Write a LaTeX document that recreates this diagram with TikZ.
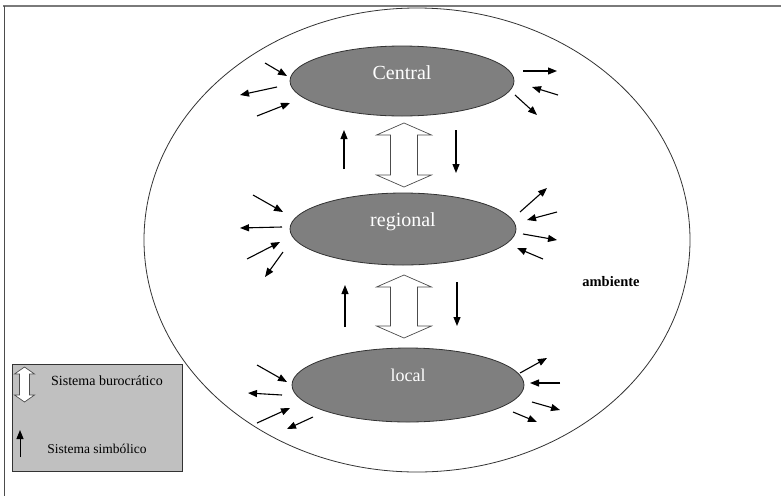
\documentclass[tikz,border=0pt]{standalone}
\usepackage{fontspec}
\setmainfont{Liberation Serif}
\usetikzlibrary{arrows.meta,shapes.geometric}

\definecolor{levelgray}{HTML}{7F7F7F}
\definecolor{legendgray}{HTML}{C0C0C0}
\definecolor{framegray}{HTML}{7A7A7A}

\tikzset{
  level/.style={ellipse, draw=black!80, line width=0.8pt, fill=levelgray, inner sep=0pt},
  lvltext/.style={text=white, font=\fontsize{20}{22}\selectfont},
  flow/.style={line width=1.1pt, -{Triangle[length=9pt,width=7pt]}},
  burbox/.style={draw=black!70, line width=0.7pt, fill=white}
}

% the hollow two-headed arrow (bureaucratic system)
\newcommand{\burarrow}[6]{%
  \draw[burbox] (#1,#2) -- (#1+#5,#2+#6) -- (#1+#4,#2+#6) -- (#1+#4,#3-#6)
    -- (#1+#5,#3-#6) -- (#1,#3) -- (#1-#5,#3-#6) -- (#1-#4,#3-#6)
    -- (#1-#4,#2+#6) -- (#1-#5,#2+#6) -- cycle;}

\begin{document}
\begin{tikzpicture}[x=1pt,y=-1pt]
  \useasboundingbox (0,0) rectangle (781,496);

  % frame
  \draw[framegray, line width=2pt] (3,6) -- (781,6);
  \draw[black!70, line width=0.8pt] (4,6) -- (4,496);

  % environment
  \draw[black!80, line width=0.8pt] (417,240) ellipse [x radius=273pt, y radius=232pt];
  \node[font=\bfseries\fontsize{14.5}{16}\selectfont] (amb) at (611,282) {ambiente};

  % levels
  \node[level, minimum width=224pt, minimum height=70pt] (central) at (402,81) {};
  \node[level, minimum width=226pt, minimum height=72pt] (regional) at (403,229) {};
  \node[level, minimum width=232pt, minimum height=74pt] (local) at (408,385) {};

  \node[lvltext] (centralt) at ([yshift=8pt]central.center) {Central};
  \node[lvltext] (regionalt) at ([yshift=7pt]regional.center) {regional};
  \node[lvltext, font=\fontsize{18}{20}\selectfont] (localt) at ([yshift=10pt]local.center) {local};

  % between levels
  \burarrow{404}{123}{187}{13.5}{27.5}{12}
  \burarrow{404}{275}{338}{13.5}{27.5}{12}
  \draw[flow] (344,169) -- (344,130);
  \draw[flow] (456,130) -- (456,173);
  \draw[flow] (345,327) -- (345,285);
  \draw[flow] (457,282) -- (457,326);

  % exchanges with the environment: Central
  \draw[flow] (265,63) -- (287,76);
  \draw[flow] (277,87) -- (240,95);
  \draw[flow] (257,116) -- (290,103);
  \draw[flow] (523,71) -- (557,71);
  \draw[flow] (558,95) -- (532,87);
  \draw[flow] (515,95) -- (537,115);

  % regional
  \draw[flow] (253,195) -- (283,212);
  \draw[flow] (282,227) -- (240,228);
  \draw[flow] (247,259) -- (280,242);
  \draw[flow] (283,252) -- (265,277);
  \draw[flow] (520,212) -- (547,188);
  \draw[flow] (557,212) -- (527,220);
  \draw[flow] (523,234) -- (557,240);
  \draw[flow] (543,259) -- (517,248);

  % local
  \draw[flow] (257,365) -- (287,382);
  \draw[flow] (282,395) -- (248,393);
  \draw[flow] (257,423) -- (290,408);
  \draw[flow] (313,417) -- (287,429);
  \draw[flow] (520,373) -- (547,358);
  \draw[flow] (560,383) -- (530,383);
  \draw[flow] (532,402) -- (560,410);
  \draw[flow] (513,412) -- (537,422);

  % legend
  \node[draw=black!80, line width=0.8pt, fill=legendgray, minimum width=170pt,
        minimum height=107pt, inner sep=0pt] (legend) at (97,418) {};
  \burarrow{24.5}{367}{402}{5}{10}{7}
  \draw[flow, line width=1pt] (20,457) -- (20,430);
  \node[font=\fontsize{14}{16}\selectfont] (burl) at (107,381) {Sistema burocrático};
  \node[font=\fontsize{13.5}{16}\selectfont] (siml) at (97,449) {Sistema simbólico};
\end{tikzpicture}
\end{document}
